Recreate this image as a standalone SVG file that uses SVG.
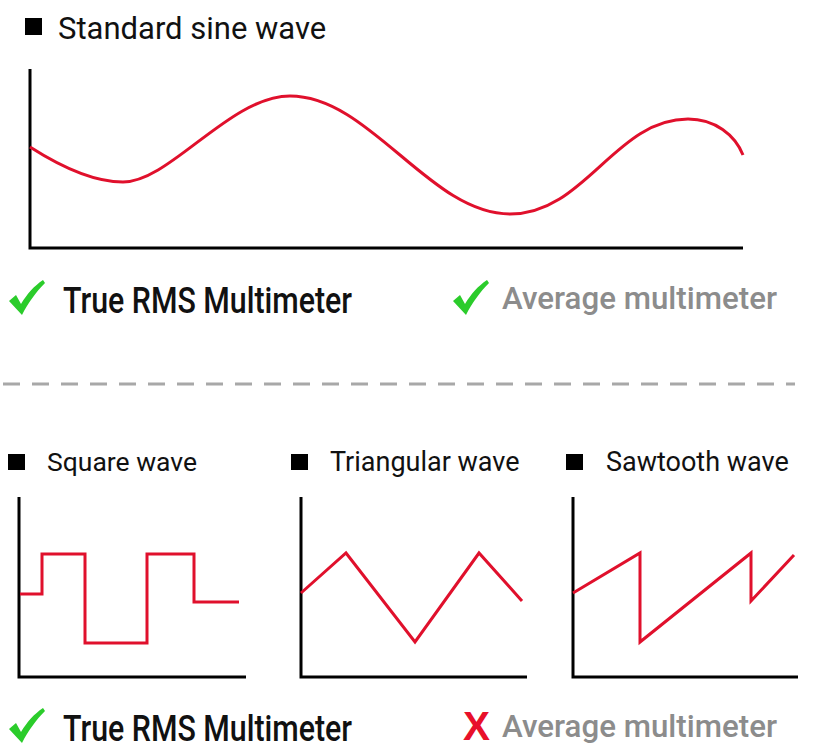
<svg xmlns="http://www.w3.org/2000/svg" width="832" height="749" viewBox="0 0 832 749">
<style>
.axis{fill:none;stroke:#000;stroke-width:3}
.wave{fill:none;stroke:#e0102c;stroke-width:3;stroke-linejoin:miter}
.title{font-family:Roboto,"Noto Sans",sans-serif;fill:#111}
.lbl{font-family:Roboto,"Liberation Sans",sans-serif;font-weight:500}
.dark{fill:#111}
.grey{fill:#8c8c8c}
.chk{fill:#2bcc2b}
</style>
<rect width="832" height="749" fill="#fff"/>

<g id="sine">
<rect x="25" y="18" width="17" height="17" fill="#000"/>
<text class="title" x="58" y="39" font-size="31">Standard sine wave</text>
<path class="axis" d="M30,69 V248 H743"/>
<path class="wave" d="M30,147 C55,163 90,182 123,182 C170,182 230,96 290,96 C370,96 430,214 510,214 C585,214 615,119 688,119 C715,119 735,135 743,155"/>
</g>

<g id="sine-result">
<path class="chk" d="M9,301 L16,295 L21,304 C27,294 34,286 43,280 L45,283 C36,292 28,303 22,315 Z"/>
<text class="lbl dark" x="63" y="313" font-size="36" textLength="289" lengthAdjust="spacingAndGlyphs">True RMS Multimeter</text>
<path class="chk" d="M453,301 L460,295 L465,304 C471,294 478,286 487,280 L489,283 C480,292 472,303 466,315 Z"/>
<text class="lbl grey" x="502" y="309" font-size="32" textLength="275" lengthAdjust="spacingAndGlyphs">Average multimeter</text>
</g>

<g id="divider">
<line x1="3" y1="384" x2="795" y2="384" stroke="#a8a8a8" stroke-width="3" stroke-dasharray="17,12"/>
</g>

<g id="square">
<rect x="8" y="454" width="17" height="16" fill="#000"/>
<text class="title" x="47" y="471" font-size="26.5">Square wave</text>
<path class="axis" d="M19,497 V677 H246"/>
<path class="wave" d="M20,594 H42 V554 H85 V643 H147 V554 H194 V602 H239"/>
</g>

<g id="triangular">
<rect x="291" y="454" width="17" height="16" fill="#000"/>
<text class="title" x="330" y="471" font-size="27">Triangular wave</text>
<path class="axis" d="M301,497 V677 H527"/>
<path class="wave" d="M301,593 L346,553 L415,642 L479,553 L522,601"/>
</g>

<g id="sawtooth">
<rect x="566" y="454" width="17" height="16" fill="#000"/>
<text class="title" x="606" y="471" font-size="27">Sawtooth wave</text>
<path class="axis" d="M573,497 V677 H798"/>
<path class="wave" d="M573,593 L640,553 V642 L751,553 V601 L794,555"/>
</g>

<g id="others-result">
<path class="chk" d="M9,729 L16,723 L21,732 C27,722 34,714 43,708 L45,711 C36,720 28,731 22,743 Z"/>
<text class="lbl dark" x="63" y="741" font-size="36" textLength="289" lengthAdjust="spacingAndGlyphs">True RMS Multimeter</text>
<text x="463" y="740" font-family="Liberation Sans,Arial,sans-serif" font-size="41" font-weight="bold" fill="#e8102a" textLength="27" lengthAdjust="spacingAndGlyphs">X</text>
<text class="lbl grey" x="502" y="737" font-size="32" textLength="275" lengthAdjust="spacingAndGlyphs">Average multimeter</text>
</g>
</svg>
